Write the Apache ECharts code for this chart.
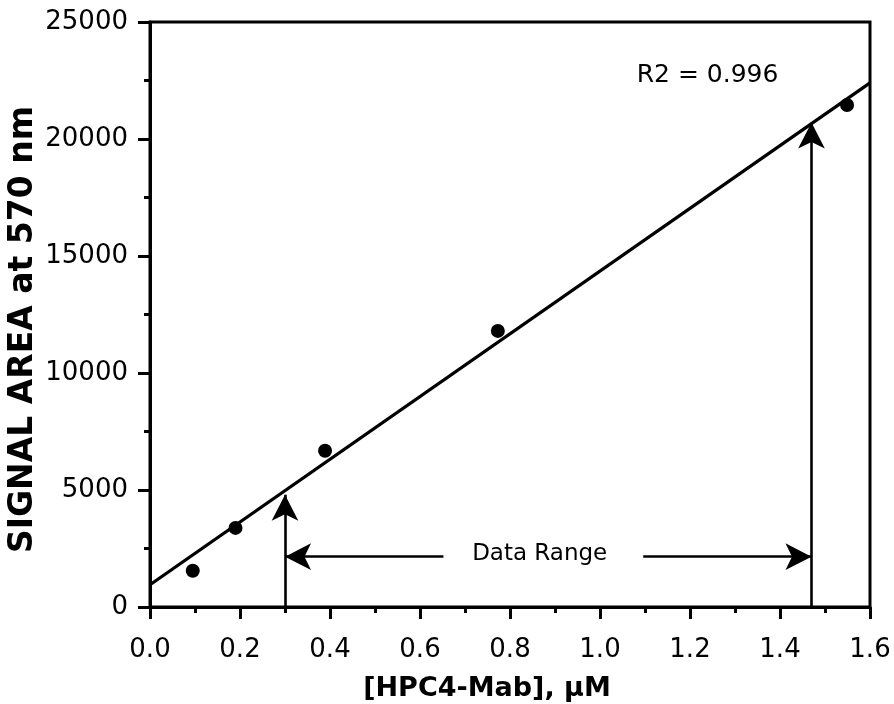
<!DOCTYPE html>
<html>
<head>
<meta charset="utf-8">
<script src="https://cdn.jsdelivr.net/npm/echarts@6/dist/echarts.min.js"></script>
<style>
html,body{margin:0;padding:0;background:#fff;}
#chart{width:894px;height:704px;}
</style>
</head>
<body>
<div id="chart"></div>
<script>
// Measured points
const concentration = [0.095, 0.19, 0.389, 0.773, 1.549];
const signalArea = [1550, 3380, 6680, 11800, 21450];
// Linear fit end points
const fitX = [0, 1.6];
const fitY = [950, 22400];
// Annotations
const rangeX = [0.3, 1.47];          // data range limits
const rangeTopY = [4800, 20700];     // vertical arrow tips
const rangeArrowY = 2150;            // horizontal arrow level
const rangeArrowTails = [0.652, 1.096];
const rangeLabel = 'Data Range';
const rangeLabelPos = [0.866, 2250];
const r2Label = 'R2 = 0.996';
const r2Pos = [1.239, 22700];
const xTicks = {min: 0, max: 1.6, interval: 0.2};
const yTicks = {min: 0, max: 25000, interval: 5000};

const ink = '#000';
const chart = echarts.init(document.getElementById('chart'), null, {renderer: 'canvas'});

const arrowLines = [
  [{coord: [rangeX[0], 0]}, {coord: [rangeX[0], rangeTopY[0]]}],
  [{coord: [rangeX[1], 0]}, {coord: [rangeX[1], rangeTopY[1]]}],
  [{coord: [rangeArrowTails[0], rangeArrowY]}, {coord: [rangeX[0], rangeArrowY]}],
  [{coord: [rangeArrowTails[1], rangeArrowY]}, {coord: [rangeX[1], rangeArrowY]}]
];

chart.setOption({
  backgroundColor: '#fff',
  animation: false,
  grid: {left: 150, right: 24, top: 22, bottom: 97, containLabel: false, outerBoundsMode: 'none',
    show: true, borderColor: ink, borderWidth: 3, backgroundColor: 'transparent'},
  xAxis: {
    type: 'value', min: xTicks.min, max: xTicks.max, interval: xTicks.interval,
    name: '[HPC4-Mab], μM', nameLocation: 'middle', nameGap: 68, nameMoveOverlap: false,
    nameTextStyle: {fontFamily: 'DejaVu Sans', fontWeight: 'bold', fontSize: 27, color: ink, padding: [0, 46, 0, 0]},
    axisLine: {show: true, lineStyle: {color: ink, width: 3}},
    axisTick: {show: true, length: 12, lineStyle: {color: ink, width: 3}},
    minorTick: {show: true, splitNumber: 2, length: 6, lineStyle: {color: ink, width: 3}},
    splitLine: {show: false},
    axisLabel: {fontFamily: 'DejaVu Sans', fontSize: 26, color: ink, margin: 30,
      formatter: v => v.toFixed(1)}
  },
  yAxis: {
    type: 'value', min: yTicks.min, max: yTicks.max, interval: yTicks.interval,
    name: 'SIGNAL AREA at 570 nm', nameLocation: 'middle', nameGap: 110, nameMoveOverlap: false,
    nameTextStyle: {fontFamily: 'DejaVu Sans', fontWeight: 'bold', fontSize: 33, color: ink, padding: [0, 30, 0, 0]},
    axisLine: {show: true, lineStyle: {color: ink, width: 3}},
    axisTick: {show: true, length: 12, lineStyle: {color: ink, width: 3}},
    minorTick: {show: true, splitNumber: 2, length: 6, lineStyle: {color: ink, width: 3}},
    splitLine: {show: false},
    axisLabel: {fontFamily: 'DejaVu Sans', fontSize: 26, color: ink, margin: 22,
      formatter: v => String(v)}
  },
  series: [
    {
      type: 'line', data: fitX.map((x, i) => [x, fitY[i]]),
      showSymbol: false, symbol: 'none',
      lineStyle: {color: ink, width: 3.3}, silent: true,
      markLine: {
        silent: true, symbol: ['none', 'arrow'], symbolSize: [20, 26],
        label: {show: false},
        lineStyle: {color: ink, width: 2.6, type: 'solid'},
        data: arrowLines
      },
      markPoint: {
        silent: true, symbol: 'circle', symbolSize: 0,
        label: {show: true, position: 'inside', color: ink, fontFamily: 'DejaVu Sans', fontSize: 23,
          formatter: p => p.name},
        data: [
          {name: rangeLabel, coord: rangeLabelPos},
          {name: r2Label, coord: r2Pos, label: {fontSize: 25}}
        ]
      }
    },
    {
      type: 'scatter', data: concentration.map((x, i) => [x, signalArea[i]]),
      symbol: 'circle', symbolSize: 14, itemStyle: {color: ink, opacity: 1}, z: 5
    }
  ]
});
</script>
</body>
</html>
